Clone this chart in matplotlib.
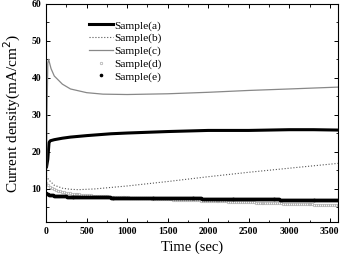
import numpy as np
import matplotlib
matplotlib.use('Agg')
import matplotlib.pyplot as plt
from matplotlib.ticker import MultipleLocator

plt.rcParams['font.family'] = ['Liberation Serif', 'DejaVu Serif']

# Sample(a) thick black
ta = [5, 20, 35, 50, 100, 200, 300, 500, 800, 1000, 1500, 2000, 2500, 3000, 3300, 3600]
ya = [16.0, 18.0, 22.5, 23.0, 23.3, 23.7, 24.0, 24.4, 24.9, 25.1, 25.5, 25.8, 25.8, 26.0, 26.0, 25.9]
# Sample(b) dotted
tb = [0, 30, 100, 200, 300, 400, 600, 1000, 1500, 2000, 2500, 3000, 3600]
yb = [13.5, 12.5, 11.0, 10.2, 9.9, 9.8, 10.0, 10.8, 12.0, 13.3, 14.5, 15.6, 16.9]
# Sample(c) gray solid
tc = [0, 10, 20, 30, 60, 100, 200, 300, 500, 700, 1000, 1500, 2000, 2500, 3000, 3600]
yc = [2.0, 30.0, 44.0, 45.0, 42.5, 40.5, 38.3, 37.0, 36.0, 35.6, 35.5, 35.7, 36.1, 36.6, 37.0, 37.5]
# Sample(d) gray circles
td = [0, 30, 100, 200, 300, 500, 800, 1000, 1500, 2000, 2500, 3000, 3600]
yd = [11.5, 10.8, 9.8, 9.2, 8.8, 8.3, 7.9, 7.7, 7.2, 6.8, 6.4, 6.0, 5.6]
# Sample(e) black dots
te = [0, 30, 100, 200, 300, 500, 1000, 1500, 2000, 2500, 3000, 3600]
ye = [8.8, 8.5, 8.2, 8.0, 7.9, 7.8, 7.6, 7.5, 7.4, 7.3, 7.1, 7.0]

xticks = [0, 500, 1000, 1500, 2000, 2500, 3000, 3500]
yticks = [10, 20, 30, 40, 50, 60]

fig, ax = plt.subplots(figsize=(3.42, 2.54), dpi=100)
fig.subplots_adjust(left=0.135, right=0.988, top=0.985, bottom=0.125)

ax.plot(ta, ya, color='black', linewidth=2.2, label='Sample(a)')
ax.plot(tb, yb, color='#555555', linestyle=':', linewidth=0.8, label='Sample(b)')
ax.plot(tc, yc, color='#888888', linewidth=0.9, label='Sample(c)')
td_f = np.linspace(0, 3600, 150)
ax.plot(td_f, np.interp(td_f, td, yd), color='#aaaaaa', linestyle='none', marker='o',
        markersize=1.8, markerfacecolor='none', markeredgewidth=0.5, label='Sample(d)')
te_f = np.linspace(0, 3600, 300)
ax.plot(te_f, np.interp(te_f, te, ye), color='black', linestyle='none', marker='o',
        markersize=1.6, label='Sample(e)')

ax.set_xlim(0, 3600)
ax.set_ylim(1, 60)
ax.set_xticks(xticks, [str(v) for v in xticks], fontweight='bold', fontsize=7)
ax.set_yticks(yticks, [str(v) for v in yticks], fontweight='bold', fontsize=7)
ax.xaxis.set_minor_locator(MultipleLocator(250))
ax.yaxis.set_minor_locator(MultipleLocator(5))
ax.tick_params(which='both', direction='in', top=True, right=True)
ax.tick_params(which='major', length=3, width=0.7)
ax.tick_params(which='minor', length=1.8, width=0.6)

ax.set_xlabel('Time (sec)', fontsize=10.5, labelpad=3)
ax.set_ylabel('Current density(mA/cm$^2$)', fontsize=11, labelpad=6)

ax.legend(loc='upper left', bbox_to_anchor=(0.13, 0.945), frameon=False, fontsize=8.2,
          handlelength=2.1, labelspacing=0.22, borderaxespad=0.0, handletextpad=0.15)

plt.savefig('out.png', dpi=100)
plt.close()
